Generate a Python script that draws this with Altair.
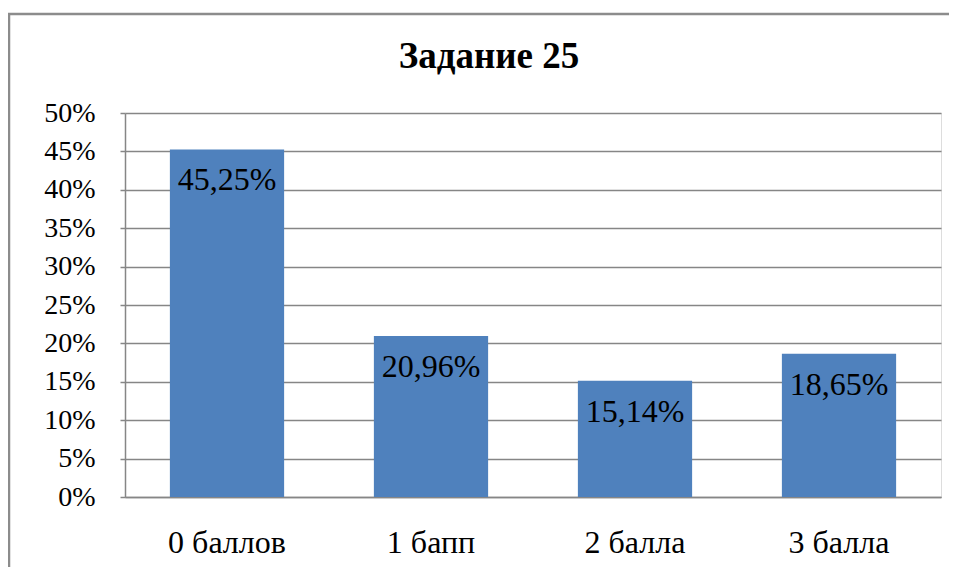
import altair as alt
import pandas as pd

categories = ["0 баллов", "1 бапп", "2 балла", "3 балла"]
values = [45.25, 20.96, 15.14, 18.65]
y_ticks = [0, 5, 10, 15, 20, 25, 30, 35, 40, 45, 50]
title_text = "Задание 25"

df = pd.DataFrame({
    "cat": categories,
    "val": values,
    "lbl": [f"{v:.2f}".replace(".", ",") + "%" for v in values],
})

FONT = "serif"
GRAY = "#868686"

x_enc = alt.X("cat:N", sort=categories,
              scale=alt.Scale(paddingInner=0.44, paddingOuter=0.22),
              axis=alt.Axis(title=None, labelAngle=0, ticks=False, labelPadding=30,
                            labelFontSize=32, labelFont=FONT, labelColor="#000000",
                            domainColor=GRAY, domainWidth=1.5, grid=False))
y_enc = alt.Y("val:Q", scale=alt.Scale(domain=[0, 50], nice=False),
              axis=alt.Axis(title=None, values=y_ticks, labelExpr="datum.value + '%'",
                            labelOverlap=False,
                            tickSize=5, tickColor=GRAY, tickWidth=1.5,
                            labelPadding=25, labelFontSize=28, labelFont=FONT,
                            labelColor="#000000", domainColor=GRAY, domainWidth=1.5,
                            grid=True, gridColor=GRAY, gridWidth=1.5))

frame = alt.Chart(pd.DataFrame({"a": [0]})).mark_rect(
    fill=None, stroke="#8c8c8c", strokeWidth=2.5
).encode(x=alt.value(-116), x2=alt.value(900), y=alt.value(-99), y2=alt.value(520))

title = alt.Chart(pd.DataFrame({"t": [title_text]})).mark_text(
    font=FONT, fontSize=37, fontWeight="bold", color="#000000",
    align="center", baseline="alphabetic"
).encode(x=alt.value(364), y=alt.value(-45), text="t:N")

base = alt.Chart(df).encode(x=x_enc, y=y_enc)
bars = base.mark_bar(color="#4F81BD")
labels = base.mark_text(
    font=FONT, fontSize=32, color="#000000", baseline="middle", align="center", dy=31
).encode(text="lbl:N")

chart = alt.layer(frame, title, bars, labels).properties(
    width=816, height=384,
    autosize=alt.AutoSizeParams(type="none"),
    padding={"left": 117, "top": 105, "right": 8, "bottom": 70},
).configure_view(stroke=None).configure(background="white")

chart.save("out.html", embed_options={"renderer": "svg", "actions": False})
